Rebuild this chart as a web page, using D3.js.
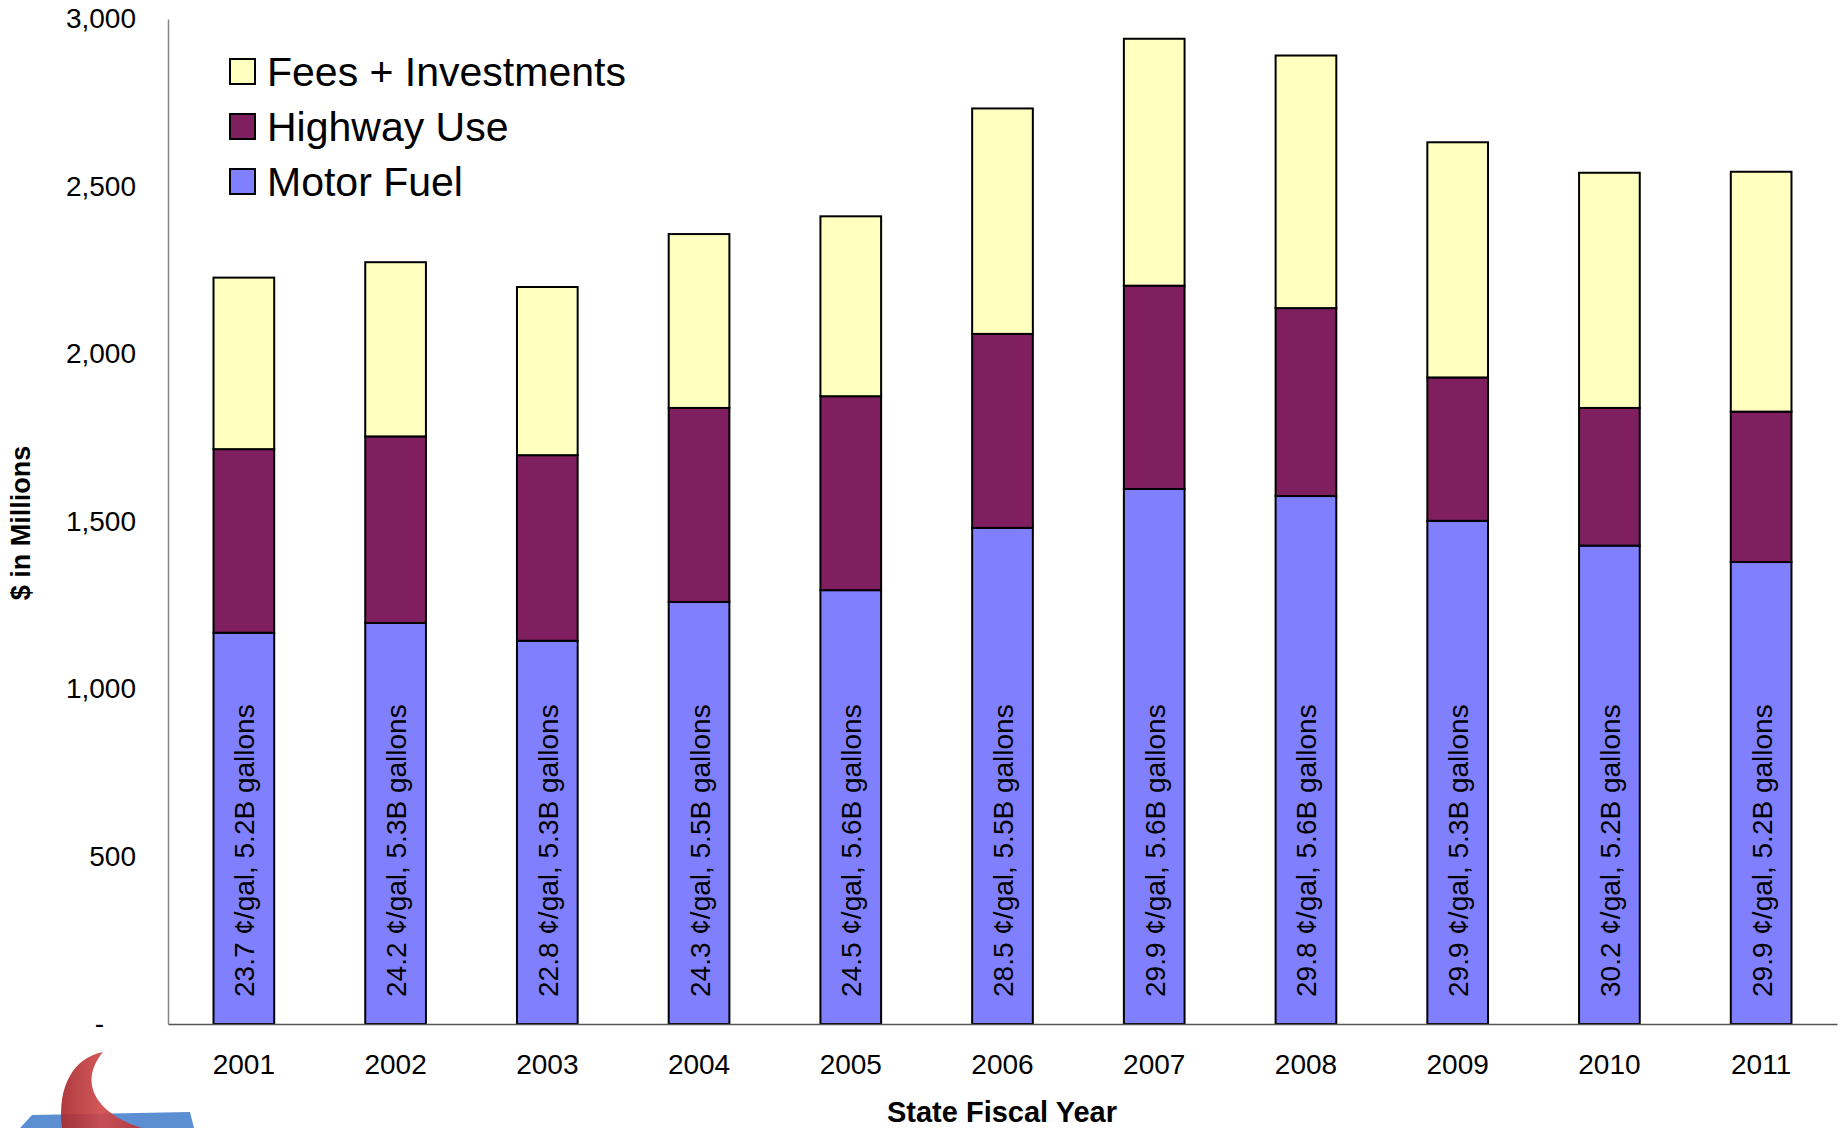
<!DOCTYPE html>
<html>
<head>
<meta charset="utf-8">
<script src="https://cdn.jsdelivr.net/npm/d3@7"></script>
<style>
  body { margin: 0; background: #fff; }
  text { font-family: "Liberation Sans", Arial, sans-serif; fill: #000; }
</style>
</head>
<body>
<script>
// Chart data ($ millions)
var years = ["2001","2002","2003","2004","2005","2006","2007","2008","2009","2010","2011"];
var motorFuel = [1168, 1197, 1144, 1260, 1295, 1481, 1597, 1576, 1502, 1428, 1379];
var highwayUse = [548, 557, 554, 579, 579, 579, 607, 561, 428, 411, 449];
var feesInvest = [512, 520, 502, 519, 537, 673, 737, 754, 702, 702, 716];
var centsPerGal = ["23.7","24.2","22.8","24.3","24.5","28.5","29.9","29.8","29.9","30.2","29.9"];
var billionGal = ["5.2","5.3","5.3","5.5","5.6","5.5","5.6","5.6","5.3","5.2","5.2"];
var yTicks = [0, 500, 1000, 1500, 2000, 2500, 3000];

var seriesNames = ["Motor Fuel", "Highway Use", "Fees + Investments"];
var seriesColors = ["#8080ff", "#7f1f5f", "#ffffc0"];

var svgWidth = 1844, svgHeight = 1128;

var svg = d3.select("body")
            .append("svg")
            .attr("width", svgWidth)
            .attr("height", svgHeight);

// build a table for the stack layout
var table = years.map(function(y, i) {
  return { year: y, "Motor Fuel": motorFuel[i], "Highway Use": highwayUse[i], "Fees + Investments": feesInvest[i] };
});
var stacked = d3.stack().keys(seriesNames)(table);

// Scales
var x = d3.scaleBand().domain(years).range([168, 1837]).paddingInner(0.6).paddingOuter(0.3);
var y = d3.scaleLinear().domain([0, 3000]).range([1024, 19]);

// Y axis
var yAxis = svg.append("g")
   .attr("transform", "translate(168,0)")
   .call(d3.axisLeft(y).tickValues(yTicks).tickSize(0).tickSizeOuter(0).tickPadding(32)
          .tickFormat(function(d) { return d === 0 ? "-" : d3.format(",")(d); }));
yAxis.select(".domain").attr("stroke", "#868686").attr("stroke-width", 1.5);
yAxis.selectAll("text").style("font-size", "28px").style("font-family", "Liberation Sans, Arial, sans-serif");
yAxis.selectAll(".tick").filter(function(d) { return d === 0; }).select("text").attr("dx", -32);

// Bars
var layers = svg.selectAll("g.layer")
   .data(stacked)
   .enter().append("g")
   .attr("class", "layer")
   .attr("fill", function(d, i) { return seriesColors[i]; });

layers.selectAll("rect")
   .data(function(d) { return d; })
   .enter().append("rect")
   .attr("x", function(d) { return x(d.data.year); })
   .attr("y", function(d) { return y(d[1]); })
   .attr("width", x.bandwidth())
   .attr("height", function(d) { return y(d[0]) - y(d[1]); })
   .attr("stroke", "#000")
   .attr("stroke-width", 2);

// X axis
var xAxis = svg.append("g")
   .attr("transform", "translate(0,1024)")
   .call(d3.axisBottom(x).tickSize(0).tickSizeOuter(0).tickPadding(30));
xAxis.select(".domain").attr("stroke", "#555").attr("stroke-width", 1.5);
xAxis.selectAll("text").style("font-size", "28px").style("font-family", "Liberation Sans, Arial, sans-serif");

// Rotated labels inside the motor fuel bars
svg.selectAll("text.barlabel")
   .data(years)
   .enter().append("text")
   .attr("class", "barlabel")
   .attr("transform", function(d) { return "translate(" + (x(d) + x.bandwidth() / 2 + 1) + ",997) rotate(-90)"; })
   .attr("dominant-baseline", "central")
   .style("font-size", "28px")
   .text(function(d, i) { return centsPerGal[i] + " \u00a2/gal, " + billionGal[i] + "B gallons"; });

// Axis titles
svg.append("text")
   .attr("x", 1002)
   .attr("y", 1122)
   .attr("text-anchor", "middle")
   .style("font-size", "29px")
   .style("font-weight", "bold")
   .text("State Fiscal Year");

svg.append("text")
   .attr("transform", "translate(30,523) rotate(-90)")
   .attr("text-anchor", "middle")
   .style("font-size", "27px")
   .style("font-weight", "bold")
   .text("$ in Millions");

// Legend (top item first)
var legendOrder = [2, 1, 0];
var legend = svg.selectAll("g.legend")
   .data(legendOrder)
   .enter().append("g")
   .attr("class", "legend")
   .attr("transform", function(d, i) { return "translate(230," + (59 + i * 55) + ")"; });

legend.append("rect")
   .attr("width", 25)
   .attr("height", 25)
   .attr("fill", function(d) { return seriesColors[d]; })
   .attr("stroke", "#000")
   .attr("stroke-width", 2);

legend.append("text")
   .attr("x", 37)
   .attr("y", 13)
   .attr("dominant-baseline", "central")
   .style("font-size", "41px")
   .text(function(d) { return seriesNames[d]; });

// logo fragment in the bottom-left corner
var defs = svg.append("defs");
var grad = defs.append("linearGradient").attr("id", "redg").attr("x1", "0").attr("x2", "1").attr("y1", "0").attr("y2", "0");
grad.append("stop").attr("offset", "0").attr("stop-color", "#a82a2e");
grad.append("stop").attr("offset", "0.5").attr("stop-color", "#cf4a4c");
grad.append("stop").attr("offset", "1").attr("stop-color", "#b83438");

svg.append("path")
   .attr("d", "M20,1128 L32,1115 L190,1112 L194,1128 Z")
   .attr("fill", "#5b8fd2");

svg.append("path")
   .attr("d", "M103,1052 C74,1058 57,1085 62,1128 L142,1128 C100,1115 76,1085 103,1052 Z")
   .attr("fill", "url(#redg)")
   .attr("opacity", 0.92);
</script>
</body>
</html>
